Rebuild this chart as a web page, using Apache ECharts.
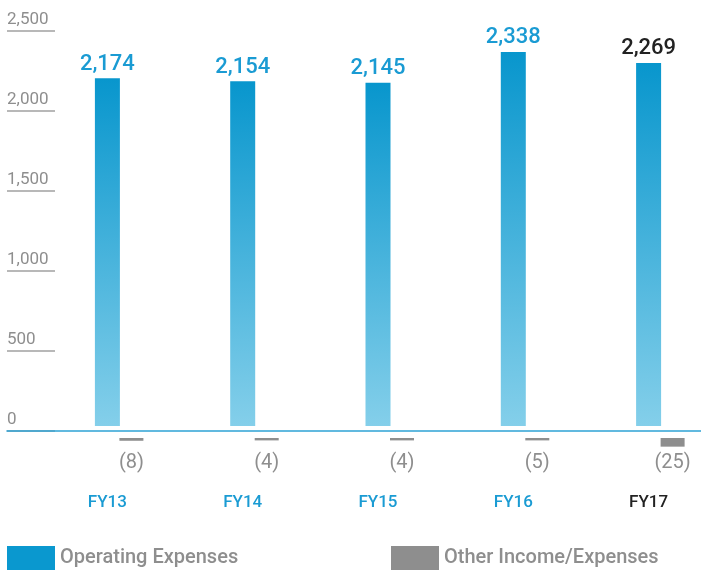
<!DOCTYPE html>
<html>
<head>
<meta charset="utf-8">
<script src="https://cdn.jsdelivr.net/npm/echarts@6/dist/echarts.min.js"></script>
<style>
html,body{margin:0;padding:0;background:#fff;}
#chart{width:701px;height:571px;}
</style>
</head>
<body>
<div id="chart"></div>
<script>
const categories = ['FY13', 'FY14', 'FY15', 'FY16', 'FY17'];
const operatingExpenses = [2174, 2154, 2145, 2338, 2269];
const otherIncomeExpenses = [-8, -4, -4, -5, -25];
const yTicks = { min: 0, max: 2500, interval: 500 };
const seriesNames = ['Operating Expenses', 'Other Income/Expenses'];
const highlightIndex = 4;

const BLUE = '#0a98cf';
const BLUE_TEXT = '#1a9bd3';
const GRAY = '#8e8e8e';
const DARK = '#222222';
const FONT = 'Roboto, "Noto Sans", sans-serif';

const chart = echarts.init(document.getElementById('chart'), null, { renderer: 'canvas' });

const legendText = { color: GRAY, fontSize: 20, fontWeight: 500, fontFamily: FONT, padding: [3, 0, 0, 0] };

const option = {
  animation: false,
  backgroundColor: '#fff',
  legend: [
    {
      left: 7, top: 546, padding: 0, itemWidth: 48, itemHeight: 24,
      icon: 'rect',
      data: [{ name: seriesNames[0], itemStyle: { color: BLUE } }],
      textStyle: legendText
    },
    {
      left: 391, top: 546, padding: 0, itemWidth: 48, itemHeight: 24,
      icon: 'rect',
      data: [{ name: seriesNames[1], itemStyle: { color: GRAY } }],
      textStyle: legendText
    }
  ],
  grid: [
    { left: 107.4, width: 541.2, top: 26, height: 400 },    // blue bars
    { left: 131.4, width: 541.2, top: 438, height: 9 },     // gray bars
    { left: 7, width: 48, top: 31, height: 400 },           // y labels + underlines
    { left: 7, right: 0, top: 31, height: 400 }             // baseline
  ],
  xAxis: [
    {
      gridIndex: 0, type: 'category', boundaryGap: false,
      data: categories.map((c, i) => ({ value: c, textStyle: { color: i === highlightIndex ? DARK : BLUE_TEXT } })),
      axisLine: { show: false }, axisTick: { show: false }, splitLine: { show: false },
      axisLabel: { margin: 68, fontSize: 17, fontWeight: 500, fontFamily: FONT }
    },
    {
      gridIndex: 1, type: 'category', boundaryGap: false, data: categories,
      axisLine: { show: false }, axisTick: { show: false }, splitLine: { show: false },
      axisLabel: {
        margin: 6, fontSize: 20, color: GRAY, fontFamily: FONT,
        formatter: (v, i) => '(' + Math.abs(otherIncomeExpenses[i]) + ')'
      }
    },
    {
      gridIndex: 2, type: 'value', show: false
    },
    {
      gridIndex: 3, type: 'value', min: 0, max: 1,
      axisLine: { show: true, lineStyle: { color: '#2ea3d5', width: 1.6 } },
      axisTick: { show: false }, axisLabel: { show: false }, splitLine: { show: false },
      z: 10
    }
  ],
  yAxis: [
    { gridIndex: 0, type: 'value', min: yTicks.min, max: yTicks.max, interval: yTicks.interval, show: false },
    { gridIndex: 1, type: 'value', min: -26, max: 0, show: false },
    {
      gridIndex: 2, type: 'value', min: yTicks.min, max: yTicks.max, interval: yTicks.interval,
      axisLine: { show: false }, axisTick: { show: false },
      splitLine: { show: true, lineStyle: { color: '#a0a0a0', width: 1.6 } },
      axisLabel: {
        inside: true, margin: 0, align: 'left', verticalAlign: 'bottom',
        padding: [0, 0, 3, 0],
        color: GRAY, fontSize: 17, fontFamily: FONT,
        formatter: v => v.toLocaleString('en-US')
      }
    },
    { gridIndex: 3, type: 'value', show: false }
  ],
  series: [
    {
      name: seriesNames[0], type: 'bar', xAxisIndex: 0, yAxisIndex: 0,
      barWidth: 25, clip: false,
      itemStyle: {
        color: new echarts.graphic.LinearGradient(0, 0, 0, 1, [
          { offset: 0, color: '#0896cd' },
          { offset: 1, color: '#84cfea' }
        ])
      },
      label: {
        show: true, position: 'top', distance: 3,
        fontSize: 22, fontWeight: 500, fontFamily: FONT, color: BLUE_TEXT,
        formatter: p => p.value.toLocaleString('en-US')
      },
      data: operatingExpenses.map((v, i) => i === highlightIndex
        ? { value: v, label: { color: DARK } } : v)
    },
    {
      name: seriesNames[1], type: 'bar', xAxisIndex: 1, yAxisIndex: 1,
      barWidth: 24, barMinHeight: 2.4, clip: false,
      itemStyle: { color: GRAY },
      data: otherIncomeExpenses
    }
  ]
};
chart.setOption(option);
</script>
</body>
</html>
